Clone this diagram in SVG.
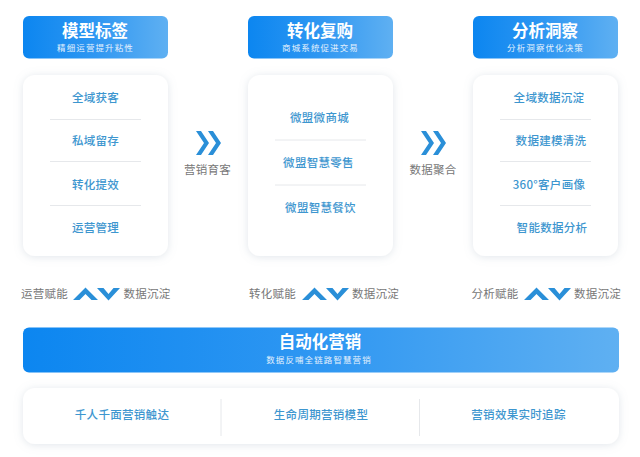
<svg xmlns="http://www.w3.org/2000/svg" width="640" height="457" viewBox="0 0 640 457">
<defs>
<linearGradient id="g" x1="0" y1="0" x2="1" y2="0"><stop offset="0" stop-color="#0c86f0"/><stop offset="0.5" stop-color="#2f97f2"/><stop offset="1" stop-color="#5fb0f2"/></linearGradient>
<filter id="s" x="-20%" y="-20%" width="140%" height="140%"><feDropShadow dx="0" dy="1" stdDeviation="4" flood-color="#8a9bb0" flood-opacity="0.26"/></filter>
<g id="chev" fill="#2a8fd8"><path d="M0 0H5L13 12L5 24H0L8 12z"/><path d="M12 0H17L25 12L17 24H12L20 12z"/></g>
<g id="av" fill="#2a8fd8"><path d="M0 13L12.500 0.500L25 13H18.500L12.500 7L6.500 13z"/><path d="M24 1H30.500L35.500 7L40.500 1H47L35.500 13.500z"/></g>
</defs>
<style>
text{font-family:"Noto Sans CJK SC","Noto Sans",sans-serif;text-anchor:middle}
.t{font-size:16.500px;font-weight:700;fill:#fff}
.st{font-size:8.500px;fill:#e4f1fd;letter-spacing:1.100px}
.i{font-size:11.500px;font-weight:500;fill:#3d96cf;letter-spacing:0.300px}
.g{font-size:11.500px;fill:#777;letter-spacing:0.300px}
.card{fill:#fff;filter:url(#s)}
.d{stroke:#e6e8eb;stroke-width:1;fill:none}
</style>
<rect width="640" height="457" fill="#fff"/>
<g id="connectors">
<use href="#chev" x="196" y="131"/>
<use href="#chev" x="421" y="131"/>
<use href="#av" x="73" y="287"/>
<use href="#av" x="302" y="287"/>
<use href="#av" x="524" y="287"/>
</g>
<g id="node-model">
<rect x="23" y="16" width="145" height="42.500" rx="6" fill="url(#g)"/>
<text class="t" x="95" y="37">模型标签</text>
<text class="st" x="95.500" y="50.500">精细运营提升粘性</text>
</g>
<g id="node-convert">
<rect x="248" y="16" width="145" height="42.500" rx="6" fill="url(#g)"/>
<text class="t" x="320" y="37">转化复购</text>
<text class="st" x="320.500" y="50.500">商城系统促进交易</text>
</g>
<g id="node-analysis">
<rect x="473" y="16" width="145" height="42.500" rx="6" fill="url(#g)"/>
<text class="t" x="545" y="37">分析洞察</text>
<text class="st" x="545.500" y="50.500">分析洞察优化决策</text>
</g>
<g id="card-model">
<rect class="card" x="23" y="75" width="145" height="181" rx="12"/>
<path class="d" d="M50 119.500H141M50 161.500H141M50 205.500H141"/>
<text class="i" x="95.500" y="102">全域获客</text>
<text class="i" x="95.500" y="145">私域留存</text>
<text class="i" x="95.500" y="189">转化提效</text>
<text class="i" x="95.500" y="232">运营管理</text>
</g>
<g id="card-convert">
<rect class="card" x="248" y="75" width="145" height="181" rx="12"/>
<path class="d" d="M275 140H366M275 185H366"/>
<text class="i" x="319.500" y="122">微盟微商城</text>
<text class="i" x="318.500" y="167">微盟智慧零售</text>
<text class="i" x="320.500" y="212">微盟智慧餐饮</text>
</g>
<g id="card-analysis">
<rect class="card" x="473" y="75" width="145" height="181" rx="12"/>
<path class="d" d="M500 119.500H591M500 161.500H591M500 205.500H591"/>
<text class="i" x="549" y="102">全域数据沉淀</text>
<text class="i" x="551" y="145">数据建模清洗</text>
<text class="i" x="549" y="189">360°客户画像</text>
<text class="i" x="552" y="232">智能数据分析</text>
</g>
<g id="label-flow1"><text class="g" x="207.500" y="174">营销育客</text></g>
<g id="label-flow2"><text class="g" x="433" y="174">数据聚合</text></g>
<g id="caption-1">
<text class="g" x="44.500" y="298">运营赋能</text>
<text class="g" x="147" y="298">数据沉淀</text>
</g>
<g id="caption-2">
<text class="g" x="272.500" y="298">转化赋能</text>
<text class="g" x="375.500" y="298">数据沉淀</text>
</g>
<g id="caption-3">
<text class="g" x="495" y="298">分析赋能</text>
<text class="g" x="597.500" y="298">数据沉淀</text>
</g>
<g id="node-auto">
<rect x="23" y="327.500" width="596" height="45" rx="6" fill="url(#g)"/>
<text class="t" x="320" y="348">自动化营销</text>
<text class="st" x="319" y="363">数据反哺全链路智慧营销</text>
</g>
<g id="card-auto">
<rect class="card" x="23" y="388" width="596" height="56" rx="12"/>
<path class="d" d="M221 399V436M419.500 399V436"/>
<text class="i" x="122" y="419">千人千面营销触达</text>
<text class="i" x="321" y="419">生命周期营销模型</text>
<text class="i" x="518.500" y="419">营销效果实时追踪</text>
</g>
</svg>
